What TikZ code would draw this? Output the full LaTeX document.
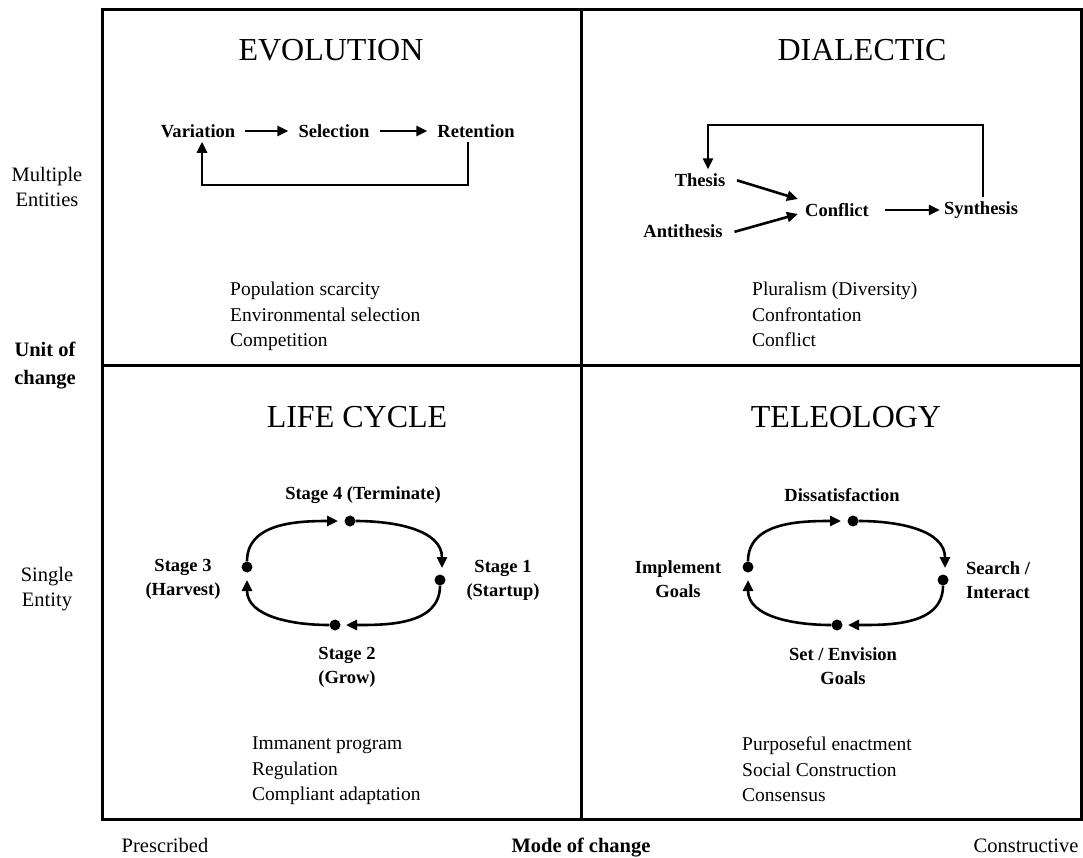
\documentclass[tikz,border=0pt]{standalone}
\usepackage{fontspec}
\setmainfont{Liberation Serif}
\usetikzlibrary{arrows.meta}
\begin{document}
\begin{tikzpicture}[x=1pt,y=-1pt,
  frame/.style={line width=3pt},
  arr/.style={line width=2.6pt,-{Triangle[length=11pt,width=10pt]}},
  title/.style={font=\fontsize{32}{36}\selectfont},
  lbl/.style={font=\fontsize{18.5}{24}\selectfont\bfseries,inner sep=4pt,align=center},
  body/.style={font=\fontsize{19.5}{25.5}\selectfont,align=left,anchor=north west,inner sep=0pt},
  axis/.style={font=\fontsize{20.5}{25}\selectfont,align=center},
  axisb/.style={font=\fontsize{20.5}{28}\selectfont\bfseries,align=center},
  dot/.style={circle,fill=black,inner sep=0pt,minimum size=11pt}]
\useasboundingbox (0,0) rectangle (1083,857);
\fill[white] (0,0) rectangle (1083,857);
% frame
\draw[frame] (102,9) rectangle (1081,819);
\draw[frame] (581,9) -- (581,819);
\draw[frame] (102,365) -- (1081,365);
% titles
\node[title] (t1) at (331,50) {EVOLUTION};
\node[title] (t2) at (862,50) {DIALECTIC};
\node[title] (t3) at (357,417) {LIFE CYCLE};
\node[title] (t4) at (846,417) {TELEOLOGY};
% Evolution
\node[lbl] (var) at (198,131) {Variation};
\node[lbl] (sel) at (334,131) {Selection};
\node[lbl] (ret) at (476,131) {Retention};
\draw[arr,shorten <=6pt,shorten >=6pt] (var.east) -- (sel.west);
\draw[arr,shorten <=6pt,shorten >=6pt] (sel.east) -- (ret.west);
\draw[arr] ([xshift=-8pt]ret.south) -- ([xshift=-8pt]ret.south |- 0,185) -| ([xshift=4pt]var.south);
\node[body] (evtext) at (230,282) {Population scarcity\\Environmental selection\\Competition};
% Dialectic
\node[lbl] (th) at (700,180) {Thesis};
\node[lbl] (an) at (683,231) {Antithesis};
\node[lbl] (co) at (837,210) {Conflict};
\node[lbl] (sy) at (981,210) {Synthesis};
\draw[arr,shorten <=8pt] ([yshift=2pt]th.east) -- ([yshift=11pt,xshift=-3pt]co.west);
\draw[arr,shorten <=8pt] ([yshift=-3pt]an.east) -- ([yshift=-4pt,xshift=-3pt]co.west);
\draw[arr,shorten <=12pt] (co.east) -- (sy.west);
\draw[arr] ([xshift=2pt]sy.north) -- ([xshift=2pt]sy.north |- 0,125) -| ([xshift=8pt]th.north);
\node[body] (ditext) at (752,282) {Pluralism (Diversity)\\Confrontation\\Conflict};
% Life cycle
\node[dot] (lt) at (350,521) {};
\node[dot] (lr) at (440,580) {};
\node[dot] (lb) at (335,625) {};
\node[dot] (ll) at (247,567) {};
\draw[arr] (lt) to[out=0,in=90] ([xshift=2pt,yshift=12pt]lr.center);
\draw[arr] (lr) to[out=-90,in=0] ([xshift=11pt]lb.center);
\draw[arr] (lb) to[out=180,in=-90] ([yshift=-13pt]ll.center);
\draw[arr] (ll) to[out=90,in=180] ([xshift=-12pt]lt.center);
\node[lbl] (s4) at (363,495) {Stage 4 (Terminate)};
\node[lbl] (s1) at (503,580) {Stage 1\\(Startup)};
\node[lbl] (s3) at (183,579) {Stage 3\\(Harvest)};
\node[lbl] (s2) at (347,667) {Stage 2\\(Grow)};
\node[body] (lctext) at (252,737) {Immanent program\\Regulation\\Compliant adaptation};
% Teleology
\node[dot] (tt) at (853,521) {};
\node[dot] (tr) at (943,580) {};
\node[dot] (tb) at (837,625) {};
\node[dot] (tl) at (748,567) {};
\draw[arr] (tt) to[out=0,in=90] ([xshift=2pt,yshift=12pt]tr.center);
\draw[arr] (tr) to[out=-90,in=0] ([xshift=11pt]tb.center);
\draw[arr] (tb) to[out=180,in=-90] ([yshift=-13pt]tl.center);
\draw[arr] (tl) to[out=90,in=180] ([xshift=-12pt]tt.center);
\node[lbl] (d1) at (842,495) {Dissatisfaction};
\node[lbl] (d2) at (998,580) {Search /\\Interact};
\node[lbl] (d4) at (678,579) {Implement\\Goals};
\node[lbl] (d3) at (843,666) {Set / Envision\\Goals};
\node[body] (tetext) at (742,737) {Purposeful enactment\\Social Construction\\Consensus};
% axes
\node[axis] (me) at (47,187) {Multiple\\Entities};
\node[axisb] (uc) at (45,366) {Unit of\\change};
\node[axis] (se) at (47,589) {Single\\Entity};
\node[axis,anchor=base] (pr) at (165,852) {Prescribed};
\node[axisb,anchor=base] (mc) at (581,852) {Mode of change};
\node[axis,anchor=base] (cn) at (1026,852) {Constructive};
\end{tikzpicture}
\end{document}
